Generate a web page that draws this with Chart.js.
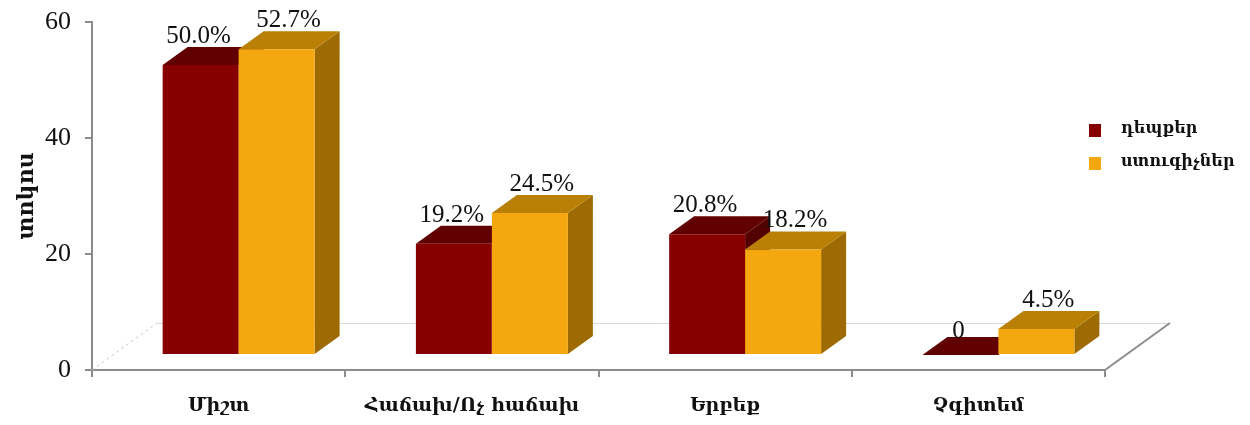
<!DOCTYPE html>
<html>
<head>
<meta charset="utf-8">
<script src="https://cdn.jsdelivr.net/npm/chart.js@4/dist/chart.umd.min.js"></script>
<style>
  html, body { margin: 0; padding: 0; background: #ffffff; }
  #wrap { width: 1250px; height: 425px; position: relative; }
</style>
</head>
<body>
<div id="wrap"><canvas id="c" width="1250" height="425"></canvas></div>
<script>
// ---- data ----
const categories = ['Միշտ', 'Հաճախ/Ոչ հաճախ', 'Երբեք', 'Չգիտեմ'];
const seriesNames = ['դեպքեր', 'ստուգիչներ'];
const casesValues = [50.0, 19.2, 20.8, 0];
const controlValues = [52.7, 24.5, 18.2, 4.5];
const yTicks = [0, 20, 40, 60];
const yTitle = 'տոկոս';

// ---- styles ----
const frontColors = ['#870000', '#F5A70F'];
const topColors = ['#600000', '#BA8006'];
const sideColors = ['#520000', '#9E6A04'];
const DEPTH = { dx: 25, dy: -18 };   // bar depth (3D)
const SHIFT = { dx: 20, dy: -15 };   // bar placement inside floor depth
const FLOOR = { dx: 65, dy: -47 };   // floor depth

const labelFont = '25px "Liberation Serif", "Times New Roman", serif';
const armFont = '"DejaVu Serif", serif';

function fmt(v) { return v === 0 ? '0' : v.toFixed(1) + '%'; }

const threeD = {
  id: 'threeD',
  afterDatasetsUpdate(chart) {
    chart.data.datasets.forEach((ds, i) => {
      const meta = chart.getDatasetMeta(i);
      meta.data.forEach(el => {
        el.x += SHIFT.dx;
        el.y += SHIFT.dy;
        el.base += SHIFT.dy;
      });
    });
  },
  beforeDatasetsDraw(chart) {
    const ctx = chart.ctx;
    const a = chart.chartArea;
    const y0 = chart.scales.y.getPixelForValue(0);
    ctx.save();
    // back floor edge
    ctx.strokeStyle = '#d9d9d9';
    ctx.lineWidth = 1;
    ctx.beginPath();
    ctx.moveTo(a.left + FLOOR.dx, y0 + FLOOR.dy + 0.5);
    ctx.lineTo(a.right + FLOOR.dx, y0 + FLOOR.dy + 0.5);
    ctx.stroke();
    // left floor edge dashed
    ctx.setLineDash([3, 3]);
    ctx.strokeStyle = '#c8c8c8';
    ctx.beginPath();
    ctx.moveTo(a.left, y0);
    ctx.lineTo(a.left + FLOOR.dx, y0 + FLOOR.dy);
    ctx.stroke();
    ctx.setLineDash([]);
    // right floor edge
    ctx.strokeStyle = '#8c8c8c';
    ctx.lineWidth = 2;
    ctx.beginPath();
    ctx.moveTo(a.right, y0);
    ctx.lineTo(a.right + FLOOR.dx, y0 + FLOOR.dy);
    ctx.stroke();
    ctx.restore();
  },
  // cancel default (reverse-order) drawing; bars are drawn in afterDatasetsDraw
  beforeDatasetDraw() { return false; },
  afterDatasetsDraw(chart) {
    const ctx = chart.ctx;
    ctx.save();
    chart.data.datasets.forEach((ds, i) => {
      const meta = chart.getDatasetMeta(i);
      meta.data.forEach(el => {
        const p = el.getProps(['x', 'y', 'base', 'width'], true);
        const l = p.x - p.width / 2, r = p.x + p.width / 2;
        const t = Math.min(p.y, p.base), b = Math.max(p.y, p.base);
        if (b - t > 0) {
          ctx.fillStyle = sideColors[i];
          ctx.beginPath();
          ctx.moveTo(r, t);
          ctx.lineTo(r + DEPTH.dx, t + DEPTH.dy);
          ctx.lineTo(r + DEPTH.dx, b + DEPTH.dy);
          ctx.lineTo(r, b);
          ctx.closePath();
          ctx.fill();
        }
        ctx.fillStyle = topColors[i];
        ctx.beginPath();
        ctx.moveTo(l, t);
        ctx.lineTo(r, t);
        ctx.lineTo(r + DEPTH.dx, t + DEPTH.dy);
        ctx.lineTo(l + DEPTH.dx, t + DEPTH.dy);
        ctx.closePath();
        ctx.fill();
        el.draw(ctx);
      });
    });
    // value labels
    ctx.font = labelFont;
    ctx.fillStyle = '#111111';
    ctx.textAlign = 'center';
    ctx.textBaseline = 'alphabetic';
    chart.data.datasets.forEach((ds, i) => {
      const meta = chart.getDatasetMeta(i);
      meta.data.forEach((el, j) => {
        const v = ds.data[j];
        const topBack = el.y + DEPTH.dy;
        const xOff = i === 0 ? -2 : 12;
        const yOff = v === 0 ? 1 : -4;
        ctx.fillText(fmt(v), el.x + xOff, topBack + yOff);
      });
    });
    ctx.restore();
  },
  afterDraw(chart) {
    // legend
    const ctx = chart.ctx;
    ctx.save();
    ctx.font = 'bold 16px ' + armFont;
    ctx.textBaseline = 'middle';
    ctx.textAlign = 'left';
    chart.data.datasets.forEach((ds, i) => {
      const y = 124 + i * 33;
      ctx.fillStyle = ds.backgroundColor;
      ctx.fillRect(1089, y, 12, 13);
      ctx.fillStyle = '#111111';
      ctx.fillText(ds.label, 1121, y + 5);
    });
    ctx.restore();
  }
};

new Chart(document.getElementById('c'), {
  type: 'bar',
  data: {
    labels: categories,
    datasets: [
      { label: seriesNames[0], data: casesValues, backgroundColor: frontColors[0], borderWidth: 0 },
      { label: seriesNames[1], data: controlValues, backgroundColor: frontColors[1], borderWidth: 0 }
    ]
  },
  options: {
    responsive: false,
    animation: false,
    events: [],
    layout: { padding: { left: 0, top: 22, right: 145, bottom: 0 } },
    categoryPercentage: 0.6,
    barPercentage: 1.0,
    plugins: {
      legend: { display: false },
      tooltip: { enabled: false }
    },
    scales: {
      x: {
        grid: { drawOnChartArea: false, drawTicks: true, tickLength: 7, color: '#8c8c8c', lineWidth: 2, offset: true },
        border: { display: true, color: '#8c8c8c', width: 2 },
        ticks: { font: { family: armFont, size: 19, weight: 'bold' }, color: '#111111', padding: 18, maxRotation: 0 },
        afterFit(scale) { scale.height = 55; scale.paddingLeft = 0; scale.paddingRight = 0; }
      },
      y: {
        min: 0, max: 60,
        afterBuildTicks(scale) { scale.ticks = yTicks.map(v => ({ value: v })); },
        grid: { drawOnChartArea: false, drawTicks: true, tickLength: 7, color: '#8c8c8c', lineWidth: 2 },
        border: { display: true, color: '#8c8c8c', width: 2 },
        ticks: { font: { family: '"Liberation Serif", serif', size: 26 }, color: '#111111', padding: 14 },
        title: { display: true, text: yTitle, font: { family: armFont, size: 22, weight: 'bold' }, color: '#111111', padding: { top: 14, bottom: 0 } },
        afterFit(scale) { scale.width = 92; scale.paddingTop = 0; scale.paddingBottom = 0; }
      }
    }
  },
  plugins: [threeD]
});
</script>
</body>
</html>
